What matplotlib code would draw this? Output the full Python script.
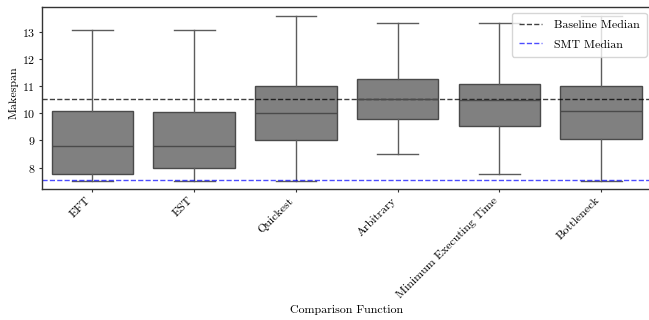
import matplotlib
matplotlib.use("Agg")
import matplotlib.pyplot as plt

# makespan distribution per comparison function (whisker low, q1, median, q3, whisker high)
categories = ["EFT", "EST", "Quickest", "Arbitrary", "Minimum Executing Time", "Bottleneck"]
whisker_low = [7.50, 7.49, 7.49, 8.49, 7.76, 7.49]
q1 = [7.77, 8.00, 9.00, 9.79, 9.54, 9.05]
medians = [8.81, 8.80, 10.00, 10.54, 10.50, 10.08]
q3 = [10.07, 10.06, 11.00, 11.26, 11.08, 11.00]
whisker_high = [13.08, 13.08, 13.60, 13.34, 13.34, 13.60]

baseline_median = 10.52
smt_median = 7.56

plt.rcParams["font.family"] = ["cmr10", "DejaVu Serif"]
plt.rcParams["axes.formatter.use_mathtext"] = True
plt.rcParams["font.size"] = 8.6

fig = plt.figure(figsize=(6.49, 3.2), dpi=100)
ax = fig.add_axes([0.064, 0.4084, 0.9407, 0.5688])

stats = []
for i, name in enumerate(categories):
    stats.append({
        "label": name,
        "whislo": whisker_low[i],
        "q1": q1[i],
        "med": medians[i],
        "q3": q3[i],
        "whishi": whisker_high[i],
        "fliers": [],
    })

edge = "#4a4a4a"
ax.bxp(
    stats,
    positions=range(len(categories)),
    widths=0.8,
    capwidths=0.4,
    patch_artist=True,
    showfliers=False,
    boxprops=dict(facecolor="#808080", edgecolor=edge, linewidth=1.0),
    medianprops=dict(color=edge, linewidth=1.0),
    whiskerprops=dict(color="#5c5c5c", linewidth=1.0),
    capprops=dict(color="#5c5c5c", linewidth=1.0),
)

ax.axhline(baseline_median, color="black", linestyle="--", linewidth=1.0, alpha=0.75,
           label="Baseline Median")
ax.axhline(smt_median, color="blue", linestyle="--", linewidth=1.0, alpha=0.7,
           label="SMT Median")

ax.set_xlim(-0.5, len(categories) - 0.5)
ax.set_ylim(7.2, 13.91)
ax.set_yticks([8, 9, 10, 11, 12, 13])
ax.set_xticks(range(len(categories)))
ax.set_xticklabels(categories, rotation=45, ha="right")
ax.tick_params(length=2.5, pad=2, color="#333333")
ax.set_xlabel("Comparison Function")
ax.set_ylabel("Makespan")
ax.xaxis.set_label_coords(0.5, -0.635)
ax.yaxis.set_label_coords(-0.037, 0.53)

for s in ax.spines.values():
    s.set_color("#333333")
    s.set_linewidth(1.0)

ax.legend(loc="upper right", fontsize=8.6, handlelength=1.9, handletextpad=1.0,
          labelspacing=0.75, borderpad=0.6, borderaxespad=0.45)

plt.savefig("out.png", dpi=100)
plt.close()
